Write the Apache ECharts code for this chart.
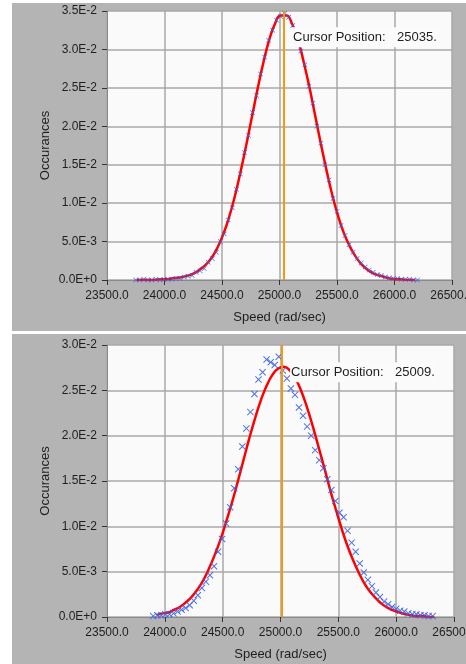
<!DOCTYPE html>
<html lang="en">
<head>
  <meta charset="utf-8">
</head>
<body style="margin: 0; background: #fff">
  <div id="container" style="width: 466px; height: 664px"></div>
  <script src="https://cdn.jsdelivr.net/npm/echarts@6/dist/echarts.min.js"></script>
  <script>
    // upper graph: measured histogram (blue x) and fitted curve (red)
    const speedTop = [23750, 23785, 23820, 23855, 23890, 23925, 23960, 23995, 24030, 24065,
      24100, 24135, 24170, 24205, 24240, 24275, 24310, 24345, 24380, 24415,
      24450, 24485, 24520, 24555, 24590, 24625, 24660, 24695, 24730, 24765,
      24800, 24835, 24870, 24905, 24940, 24975, 25010, 25045, 25080, 25115,
      25150, 25185, 25220, 25255, 25290, 25325, 25360, 25395, 25430, 25465,
      25500, 25535, 25570, 25605, 25640, 25675, 25710, 25745, 25780, 25815,
      25850, 25885, 25920, 25955, 25990, 26025, 26060, 26095, 26130, 26165,
      26200];
    const occurTop = [0.0000, 0.0000, 0.0001, 0.0000, 0.0000, 0.0001, 0.0000, 0.0001, 0.0001, 0.0001,
      0.0002, 0.0002, 0.0004, 0.0005, 0.0006, 0.0010, 0.0012, 0.0015, 0.0023, 0.0028,
      0.0036, 0.0050, 0.0060, 0.0078, 0.0094, 0.0118, 0.0138, 0.0166, 0.0188, 0.0218,
      0.0240, 0.0268, 0.0290, 0.0312, 0.0325, 0.0338, 0.0343, 0.0347, 0.0342, 0.0331,
      0.0319, 0.0298, 0.0280, 0.0252, 0.0230, 0.0200, 0.0178, 0.0150, 0.0130, 0.0106,
      0.0089, 0.0071, 0.0058, 0.0046, 0.0036, 0.0028, 0.0022, 0.0017, 0.0013, 0.0010,
      0.0007, 0.0006, 0.0004, 0.0003, 0.0002, 0.0002, 0.0001, 0.0001, 0.0001, 0.0000,
      0.0000];
    const fitSpeedTop = [23760, 23810, 23860, 23910, 23960, 24010, 24060, 24110, 24160, 24210,
      24260, 24310, 24360, 24410, 24460, 24510, 24560, 24610, 24660, 24710,
      24760, 24810, 24860, 24910, 24960, 25010, 25060, 25110, 25160, 25210,
      25260, 25310, 25360, 25410, 25460, 25510, 25560, 25610, 25660, 25710,
      25760, 25810, 25860, 25910, 25960, 26010, 26060, 26110, 26160, 26180];
    const fitTop = [0.0000, 0.0000, 0.0000, 0.0000, 0.0001, 0.0001, 0.0002, 0.0003, 0.0004, 0.0006,
      0.0009, 0.0014, 0.0020, 0.0029, 0.0042, 0.0059, 0.0081, 0.0108, 0.0140, 0.0175,
      0.0212, 0.0249, 0.0283, 0.0312, 0.0333, 0.0344, 0.0344, 0.0333, 0.0313, 0.0284,
      0.0251, 0.0214, 0.0177, 0.0142, 0.0110, 0.0083, 0.0061, 0.0044, 0.0031, 0.0021,
      0.0014, 0.0009, 0.0006, 0.0004, 0.0002, 0.0001, 0.0001, 0.0000, 0.0000, 0.0000];

    // lower graph
    const speedBottom = [23900, 23935, 23970, 24005, 24040, 24075, 24110, 24145, 24180, 24215,
      24250, 24285, 24320, 24355, 24390, 24425, 24460, 24495, 24530, 24565,
      24600, 24635, 24670, 24705, 24740, 24775, 24810, 24845, 24880, 24915,
      24950, 24985, 25020, 25055, 25090, 25125, 25160, 25195, 25230, 25265,
      25300, 25335, 25370, 25405, 25440, 25475, 25510, 25545, 25580, 25615,
      25650, 25685, 25720, 25755, 25790, 25825, 25860, 25895, 25930, 25965,
      26000, 26035, 26070, 26105, 26140, 26175, 26210, 26245, 26280, 26315];
    const occurBottom = [0.0001, 0.0002, 0.0002, 0.0003, 0.0003, 0.0004, 0.0006, 0.0008, 0.0010, 0.0013,
      0.0018, 0.0024, 0.0032, 0.0039, 0.0046, 0.0056, 0.0072, 0.0086, 0.0103, 0.0121,
      0.0142, 0.0163, 0.0188, 0.0208, 0.0226, 0.0246, 0.0262, 0.0270, 0.0284, 0.0281,
      0.0278, 0.0287, 0.0272, 0.0263, 0.0252, 0.0245, 0.0231, 0.0222, 0.0210, 0.0200,
      0.0184, 0.0173, 0.0164, 0.0152, 0.0140, 0.0128, 0.0115, 0.0110, 0.0095, 0.0082,
      0.0072, 0.0059, 0.0049, 0.0041, 0.0034, 0.0027, 0.0022, 0.0017, 0.0014, 0.0011,
      0.0009, 0.0007, 0.0006, 0.0004, 0.0003, 0.0003, 0.0002, 0.0002, 0.0001, 0.0001];
    const fitSpeedBottom = [23930, 23980, 24030, 24080, 24130, 24180, 24230, 24280, 24330, 24380,
      24430, 24480, 24530, 24580, 24630, 24680, 24730, 24780, 24830, 24880,
      24930, 24980, 25030, 25080, 25130, 25180, 25230, 25280, 25330, 25380,
      25430, 25480, 25530, 25580, 25630, 25680, 25730, 25780, 25830, 25880,
      25930, 25980, 26030, 26080, 26130, 26180, 26230, 26280, 26330];
    const fitBottom = [0.0002, 0.0004, 0.0005, 0.0008, 0.0011, 0.0016, 0.0022, 0.0030, 0.0040, 0.0053,
      0.0068, 0.0085, 0.0105, 0.0126, 0.0149, 0.0173, 0.0197, 0.0219, 0.0239, 0.0255,
      0.0267, 0.0274, 0.0276, 0.0272, 0.0263, 0.0249, 0.0231, 0.0210, 0.0187, 0.0164,
      0.0140, 0.0118, 0.0097, 0.0078, 0.0062, 0.0048, 0.0036, 0.0027, 0.0020, 0.0014,
      0.0010, 0.0007, 0.0005, 0.0003, 0.0002, 0.0001, 0.0001, 0.0000, 0.0000];

    const cursors = [25035, 25009];
    const cursorTexts = ['25035.', '25009.'];
    const yMax = [0.035, 0.030];

    var dom = document.getElementById('container');
    var myChart = echarts.init(dom, null, { renderer: 'canvas' });

    const font = 'Liberation Sans, Arial, sans-serif';
    const crossPath = 'path://M0,1L1,0L5,4L9,0L10,1L6,5L10,9L9,10L5,6L1,10L0,9L4,5Z';

    function pairs(xs, ys) {
      return xs.map(function (x, i) { return [x, ys[i]]; });
    }

    function xAxis(idx) {
      return {
        gridIndex: idx,
        type: 'value',
        min: 23500,
        max: 26500,
        interval: 500,
        name: 'Speed (rad/sec)',
        nameLocation: 'middle',
        nameGap: 31,
        nameTextStyle: { color: '#1e1e1e', fontSize: 13, fontFamily: font },
        axisLine: { show: true, onZero: false, lineStyle: { color: '#8a8a8a', width: 1 } },
        axisTick: { show: true, length: 5, lineStyle: { color: '#333' } },
        axisLabel: {
          color: '#1e1e1e', fontSize: 12, fontFamily: font, margin: 10,
          formatter: function (v) { return v.toFixed(1); }
        },
        splitLine: { show: true, lineStyle: { color: '#a8a8a8', width: 1.5 } }
      };
    }

    function yAxis(idx) {
      return {
        gridIndex: idx,
        type: 'value',
        min: 0,
        max: yMax[idx],
        interval: 0.005,
        name: 'Occurances',
        nameLocation: 'middle',
        nameMoveOverlap: false,
        nameGap: 55,
        nameTextStyle: { color: '#1e1e1e', fontSize: 13, fontFamily: font },
        axisLine: { show: true, lineStyle: { color: '#8a8a8a', width: 1 } },
        axisTick: { show: true, length: 5, lineStyle: { color: '#333' } },
        axisLabel: {
          color: '#1e1e1e', fontSize: 12, fontFamily: font, margin: 10,
          formatter: function (v) { return v.toExponential(1).toUpperCase(); }
        },
        splitLine: { show: true, lineStyle: { color: '#a8a8a8', width: 1.5 } }
      };
    }

    function fitSeries(idx, xs, ys) {
      return {
        type: 'line',
        xAxisIndex: idx,
        yAxisIndex: idx,
        data: pairs(xs, ys),
        smooth: true,
        showSymbol: false,
        z: 2,
        lineStyle: { color: '#ff0000', width: 2.5 }
      };
    }

    function pointSeries(idx, xs, ys, size, labelY) {
      return {
        type: 'scatter',
        xAxisIndex: idx,
        yAxisIndex: idx,
        data: pairs(xs, ys),
        symbol: crossPath,
        symbolSize: size,
        z: 3,
        itemStyle: { color: '#3a62e8', opacity: 0.9 },
        markLine: {
          silent: true,
          symbol: ['none', 'none'],
          label: { show: false },
          lineStyle: { color: '#f7980c', width: 2, type: 'solid' },
          data: [{ xAxis: cursors[idx] }]
        },
        markPoint: {
          silent: true,
          symbol: 'rect',
          symbolSize: 1,
          itemStyle: { color: 'rgba(0,0,0,0)' },
          data: [{ coord: [cursors[idx], labelY] }],
          label: {
            show: true,
            position: 'right',
            distance: 8,
            backgroundColor: '#fbfbfb',
            padding: [4, 2, 3, 1],
            formatter: '{a|Cursor Position:}{b|' + cursorTexts[idx] + '}',
            rich: {
              a: { width: 104, fontSize: 13, color: '#1e1e1e', fontFamily: font },
              b: { fontSize: 13, color: '#1e1e1e', fontFamily: font }
            }
          }
        }
      };
    }

    var option = {
      animation: false,
      graphic: {
        elements: [
          { type: 'rect', z: -10, shape: { x: 12, y: 3, width: 454, height: 328 }, style: { fill: '#b4b4b4' } },
          { type: 'rect', z: -10, shape: { x: 12, y: 334, width: 454, height: 330 }, style: { fill: '#b4b4b4' } }
        ]
      },
      grid: [
        { left: 107, top: 11, width: 345, height: 269, outerBoundsMode: 'none', show: true, backgroundColor: '#fafafa', borderWidth: 0 },
        { left: 107, top: 345, width: 347, height: 272, outerBoundsMode: 'none', show: true, backgroundColor: '#fafafa', borderWidth: 0 }
      ],
      xAxis: [xAxis(0), xAxis(1)],
      yAxis: [yAxis(0), yAxis(1)],
      series: [
        fitSeries(0, fitSpeedTop, fitTop),
        pointSeries(0, speedTop, occurTop, 5, 0.0316),
        fitSeries(1, fitSpeedBottom, fitBottom),
        pointSeries(1, speedBottom, occurBottom, 7, 0.0270)
      ]
    };

    myChart.setOption(option);
    window.addEventListener('resize', myChart.resize);
  </script>
</body>
</html>
